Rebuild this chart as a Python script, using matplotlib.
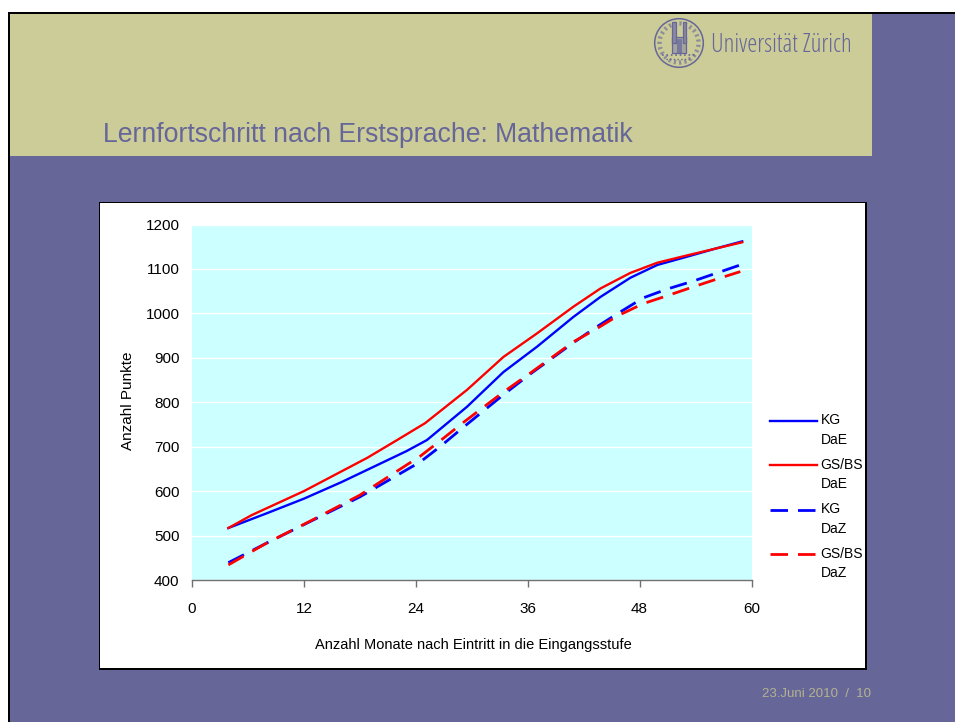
import matplotlib
matplotlib.use("Agg")
import matplotlib.pyplot as plt
from matplotlib.patches import Rectangle, Circle
from matplotlib.legend_handler import HandlerLine2D

plt.rcParams['font.family'] = ['Liberation Sans', 'DejaVu Sans']

months_kg_dae = [3.9, 8, 12, 16, 19, 23, 25.2, 29.5, 33.4, 37, 40.9, 43.8, 47, 49.9, 53, 56, 59]
kg_dae = [517, 550, 583, 620, 650, 690, 715, 790, 868, 925, 992, 1037, 1080, 1109, 1127, 1145, 1162]
months_gs_dae = [3.9, 6.4, 12, 18.8, 22, 25, 29.5, 33.4, 37, 40.9, 43.8, 47, 49.9, 53, 56, 59]
gs_dae = [517, 546, 600, 675, 715, 753, 828, 902, 955, 1015, 1056, 1091, 1114, 1130, 1145, 1160]
months_kg_daz = [3.9, 8, 13, 18, 24.5, 26.6, 29, 33.4, 36.3, 40.9, 43.2, 45.6, 48.4, 51, 53.8, 56.3, 58.8]
kg_daz = [439, 483, 535, 587, 666, 700, 742, 817, 864, 934, 967, 999, 1035, 1055, 1073, 1091, 1109]
months_gs_daz = [3.9, 8, 13, 18, 24.5, 26.6, 29, 33.4, 36.3, 40.9, 43.2, 45.7, 48.4, 51, 53.8, 56.4, 58.8]
gs_daz = [434, 483, 536, 591, 679, 713, 753, 823, 866, 936, 963, 995, 1022, 1040, 1060, 1078, 1094]

x_ticks = [0, 12, 24, 36, 48, 60]
y_ticks = [400, 500, 600, 700, 800, 900, 1000, 1100, 1200]
series_labels = ["KG\nDaE", "GS/BS\nDaE", "KG\nDaZ", "GS/BS\nDaZ"]
title = "Lernfortschritt nach Erstsprache: Mathematik"
x_label = "Anzahl Monate nach Eintritt in die Eingangsstufe"
y_label = "Anzahl Punkte"
footer = "23.Juni 2010  /  10"
logo_text = "Universität Zürich"

W, H = 955, 722
PURPLE = "#666699"
KHAKI = "#CCCC99"
fig = plt.figure(figsize=(W / 100, H / 100), dpi=100, facecolor="white")

def fx(px):
    return px / W

def fy(py):
    return 1 - py / H

def rect(x0, y0, x1, y1, color, z=0):
    fig.add_artist(Rectangle((fx(x0), fy(y1)), (x1 - x0) / W, (y1 - y0) / H,
                             transform=fig.transFigure, facecolor=color,
                             edgecolor="none", zorder=z))

class RaisedLine(HandlerLine2D):
    """Legend line level with the first row of a two-row label."""
    def create_artists(self, legend, orig_handle, xdescent, ydescent, width, height,
                       fontsize, trans):
        artists = super().create_artists(legend, orig_handle, xdescent, ydescent,
                                         width, height, fontsize, trans)
        for a in artists:
            a.set_ydata([y + 7.2 for y in a.get_ydata()])
        return artists

# slide background
rect(8, 12, W, H, "black", 0)
rect(10, 14, W, H, PURPLE, 0.1)
rect(10, 14, 872, 156, KHAKI, 0.2)
# chart frame with shadow
rect(99, 202, 867, 670, "black", 0.3)
rect(100, 203, 865, 668, "white", 0.4)

# title, footer
fig.text(fx(103), fy(135), title, color=PURPLE, fontsize=19.2, va="center", ha="left")
fig.text(fx(871), fy(694), footer, color="#B3B38F", fontsize=9.5, va="center", ha="right")

# logo
logo = fig.add_axes([fx(651), fy(71), 56 / W, 56 / H], zorder=1)
logo.set_xlim(-28, 28)
logo.set_ylim(-28, 28)
logo.axis("off")
logo.add_patch(Circle((0, 0), 24.3, fc="none", ec=PURPLE, lw=1.1))
logo.add_patch(Circle((0, 0), 19.5, fc="none", ec=PURPLE, lw=3.2, ls=(0, (0.5, 0.7)), alpha=0.6))
logo.add_patch(Rectangle((-7, -10), 14, 16, fc="#A3A3A0", ec=PURPLE, lw=0.9))
logo.add_patch(Rectangle((-7, 0), 3.5, 21, fc="#8888A0", ec=PURPLE, lw=0.9))
logo.add_patch(Rectangle((3.5, 0), 3.5, 21, fc="#8888A0", ec=PURPLE, lw=0.9))
logo.add_patch(Rectangle((-2, -10), 4, 14, fc=PURPLE, ec=PURPLE, lw=0.5, alpha=0.7))
logo.plot([-17, 17], [-12, -12], color=PURPLE, lw=1.2, ls=":")
logo.plot([-13, 13], [-16, -16], color=PURPLE, lw=1.0, ls=":")
fig.text(fx(711), fy(45), logo_text, color=PURPLE, fontsize=18.3, family="Open Sans",
         stretch="condensed", va="center", ha="left")

# chart
ax = fig.add_axes([fx(192), fy(580), (751.5 - 192) / W, (580 - 224.5) / H],
                  facecolor="#CCFFFF", zorder=2)
ax.set_xlim(0, 60)
ax.set_ylim(400, 1200)
ax.set_xticks(x_ticks)
ax.set_yticks(y_ticks)
ax.grid(axis="y", color="white", lw=1)
ax.set_axisbelow(True)
for s in ["top", "left", "right"]:
    ax.spines[s].set_visible(False)
ax.spines["bottom"].set_color("#707070")
ax.spines["bottom"].set_linewidth(1)
ax.tick_params(axis="x", direction="out", length=5, width=1, color="#707070",
               labelsize=11, pad=11)
ax.tick_params(axis="y", length=0, labelsize=11, pad=9)
ax.set_xlabel(x_label, fontsize=10.5, labelpad=15.5, x=0.503)
ax.set_ylabel(y_label, fontsize=11, labelpad=7.5, y=0.505)

dash = (0, (6.3, 3.6))
l1, = ax.plot(months_kg_dae, kg_dae, color="#0000FF", lw=1.7, label=series_labels[0])
l2, = ax.plot(months_gs_dae, gs_dae, color="#FF0000", lw=1.7, label=series_labels[1])
l3, = ax.plot(months_kg_daz, kg_daz, color="#0000FF", lw=2.0, ls=dash, label=series_labels[2])
l4, = ax.plot(months_gs_daz, gs_daz, color="#FF0000", lw=2.0, ls=dash, label=series_labels[3])

handler = RaisedLine()
leg = ax.legend(loc="upper left", bbox_to_anchor=(fx(770), fy(413.5)),
                bbox_transform=fig.transFigure, frameon=False, fontsize=10,
                handlelength=3.4, handletextpad=0.25, labelspacing=0.79,
                borderpad=0, borderaxespad=0,
                handler_map={l1: handler, l2: handler, l3: handler, l4: handler})
for t in leg.get_texts():
    t.set_linespacing(1.5)

fig.savefig("out.png", dpi=100, facecolor="white")
